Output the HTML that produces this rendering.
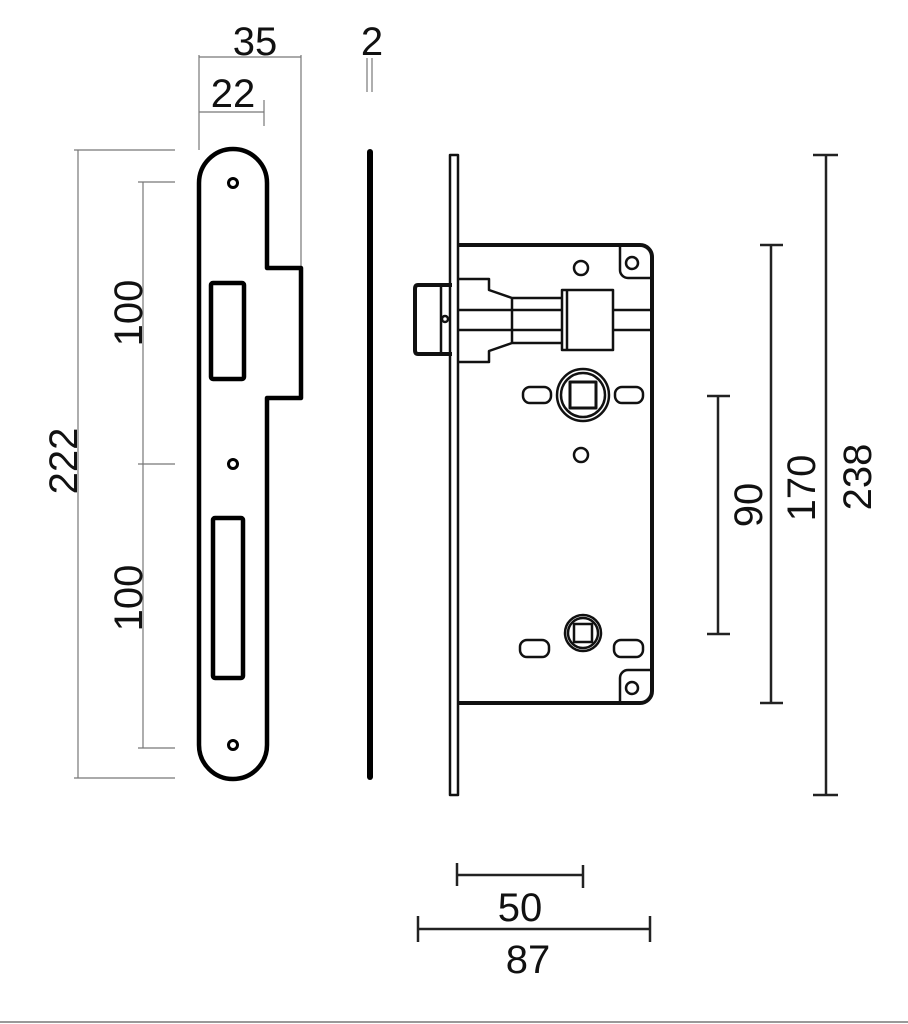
<!DOCTYPE html>
<html><head><style>html,body{margin:0;padding:0;background:#fff}svg{display:block}</style></head>
<body>
<svg width="908" height="1024" viewBox="0 0 908 1024" xmlns="http://www.w3.org/2000/svg" font-family="Liberation Sans, Arial, sans-serif" font-size="40" fill="none">
<g stroke="#777" stroke-width="1.2">
 <line x1="199" y1="55" x2="199" y2="150"/>
 <line x1="301" y1="55" x2="301" y2="268"/>
 <line x1="199" y1="57" x2="301" y2="57"/>
 <line x1="199" y1="112" x2="264" y2="112"/>
 <line x1="264" y1="100" x2="264" y2="126"/>
 <line x1="367" y1="58" x2="367" y2="92"/>
 <line x1="372" y1="58" x2="372" y2="92"/>
 <line x1="78" y1="150" x2="78" y2="778"/>
 <line x1="74" y1="150" x2="175" y2="150"/>
 <line x1="74" y1="778" x2="175" y2="778"/>
 <line x1="143" y1="182" x2="143" y2="748"/>
 <line x1="138" y1="182" x2="175" y2="182"/>
 <line x1="138" y1="464" x2="175" y2="464"/>
 <line x1="138" y1="748" x2="175" y2="748"/>
</g>
<g fill="#111" stroke="none">
 <text x="255" y="55" text-anchor="middle">35</text>
 <text x="233" y="107" text-anchor="middle">22</text>
 <text x="372" y="55" text-anchor="middle">2</text>
 <text transform="translate(142,313) rotate(-90)" text-anchor="middle">100</text>
 <text transform="translate(142,598) rotate(-90)" text-anchor="middle">100</text>
 <text transform="translate(77,461) rotate(-90)" text-anchor="middle">222</text>
 <text transform="translate(762,505) rotate(-90)" text-anchor="middle">90</text>
 <text transform="translate(815,488) rotate(-90)" text-anchor="middle">170</text>
 <text transform="translate(871,477) rotate(-90)" text-anchor="middle">238</text>
 <text x="520" y="921" text-anchor="middle">50</text>
 <text x="528" y="973" text-anchor="middle">87</text>
</g>
<g stroke="#000" stroke-width="4.5" stroke-linejoin="round">
 <path d="M199,183 A34,34 0 0 1 267,183 L267,268 L301,268 L301,398 L267,398 L267,745 A34,34 0 0 1 199,745 Z"/>
 <rect x="211" y="283" width="33" height="96" rx="2"/>
 <rect x="213" y="518" width="30" height="160" rx="2"/>
 <circle cx="233" cy="183" r="4.5" stroke-width="3"/>
 <circle cx="233" cy="464" r="4.5" stroke-width="3"/>
 <circle cx="233" cy="745" r="4.5" stroke-width="3"/>
</g>
<line x1="370" y1="152" x2="370" y2="777" stroke="#000" stroke-width="6" stroke-linecap="round"/>
<g stroke="#111" stroke-width="2.5" stroke-linejoin="round">
 <rect x="450" y="155" width="8" height="640"/>
 <path d="M458,245 L640,245 A12,12 0 0 1 652,257 L652,691 A12,12 0 0 1 640,703 L458,703" stroke-width="4"/>
 <path d="M620,245 L620,270 A8,8 0 0 0 628,278 L652,278"/>
 <circle cx="632" cy="263" r="6"/>
 <path d="M620,703 L620,678 A8,8 0 0 1 628,670 L652,670"/>
 <circle cx="632" cy="688" r="6"/>
 <path d="M452,285 L418,285 Q415,285 415,289 L415,350 Q415,354 418,354 L452,354" stroke-width="4"/>
 <line x1="441" y1="286" x2="441" y2="353"/>
 <circle cx="445" cy="319" r="3"/>
 <path d="M458,279 L489,279 L489,290 L512,298 L562,298"/>
 <path d="M458,362 L489,362 L489,351 L512,343 L562,343"/>
 <line x1="458" y1="310" x2="562" y2="310"/>
 <line x1="458" y1="330" x2="562" y2="330"/>
 <line x1="512" y1="298" x2="512" y2="343"/>
 <rect x="562" y="290" width="51" height="60"/>
 <line x1="567" y1="290" x2="567" y2="350"/>
 <line x1="613" y1="310" x2="652" y2="310"/>
 <line x1="613" y1="330" x2="652" y2="330"/>
 <circle cx="581" cy="268" r="7"/>
 <circle cx="581" cy="455" r="7"/>
 <circle cx="583" cy="395" r="26"/>
 <circle cx="583" cy="395" r="22"/>
 <rect x="570" y="382" width="26" height="26" stroke-width="3"/>
 <rect x="523" y="387" width="28" height="16" rx="7"/>
 <rect x="615" y="387" width="28" height="16" rx="7"/>
 <circle cx="583" cy="633" r="18"/>
 <circle cx="583" cy="633" r="15"/>
 <rect x="574" y="624" width="18" height="18" stroke-width="2.5"/>
 <rect x="520" y="640" width="29" height="17" rx="7"/>
 <rect x="614" y="640" width="29" height="17" rx="7"/>
</g>
<g stroke="#222" stroke-width="2.5">
 <line x1="718" y1="396" x2="718" y2="634"/><line x1="707" y1="396" x2="730" y2="396"/><line x1="707" y1="634" x2="730" y2="634"/>
 <line x1="771" y1="245" x2="771" y2="703"/><line x1="760" y1="245" x2="783" y2="245"/><line x1="760" y1="703" x2="783" y2="703"/>
 <line x1="826" y1="155" x2="826" y2="795"/><line x1="813" y1="155" x2="838" y2="155"/><line x1="813" y1="795" x2="838" y2="795"/>
 <line x1="457" y1="875" x2="583" y2="875"/><line x1="457" y1="863" x2="457" y2="886"/><line x1="583" y1="865" x2="583" y2="888"/>
 <line x1="418" y1="929" x2="650" y2="929"/><line x1="418" y1="916" x2="418" y2="942"/><line x1="650" y1="916" x2="650" y2="942"/>
</g>
<line x1="0" y1="1022" x2="908" y2="1022" stroke="#999" stroke-width="2"/>
</svg>
</body></html>
